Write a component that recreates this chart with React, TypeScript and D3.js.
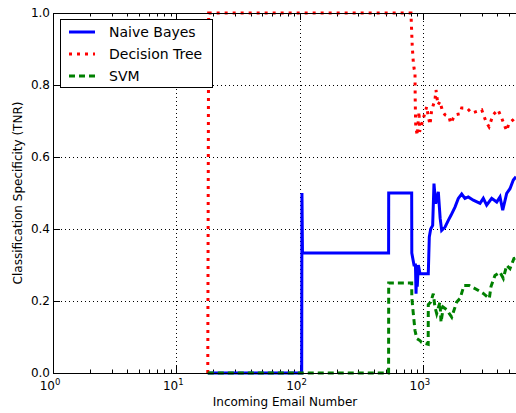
import { useEffect, useRef } from "react"
import * as d3 from "d3"

// Naive Bayes running specificity
const nbEmails = [18, 104, 104.5, 105.5, 527, 528, 811, 813, 847, 870, 880, 890, 900, 918, 947, 1106, 1127, 1157, 1200, 1230, 1270, 1334, 1380, 1420, 1511, 1607, 1690, 1821, 1937, 2063, 2193, 2334, 2564, 2906, 3090, 3290, 3614, 3970, 4220, 4440, 4782, 5085, 5410, 5690]
const nbTNR = [0, 0, 0.5, 0.333, 0.333, 0.5, 0.5, 0.333, 0.3, 0.3, 0.22, 0.29, 0.24, 0.3, 0.276, 0.276, 0.378, 0.4, 0.41, 0.526, 0.47, 0.503, 0.43, 0.396, 0.405, 0.424, 0.438, 0.461, 0.485, 0.497, 0.485, 0.489, 0.48, 0.471, 0.485, 0.466, 0.485, 0.475, 0.489, 0.452, 0.499, 0.512, 0.536, 0.545]

// Decision Tree
const dtEmails = [18, 18.3, 800, 811, 820, 835, 847, 863, 866, 870, 875, 900, 913, 930, 940, 1074, 1100, 1142, 1178, 1253, 1277, 1325, 1376, 1420, 1448, 1511, 1628, 1680, 1821, 2000, 2063, 2278, 2488, 3000, 3250, 3437, 3705, 4066, 4356, 4634, 4782, 4991, 5383, 5690]
const dtTNR = [0, 1, 1, 0.948, 0.907, 0.866, 0.847, 0.834, 0.764, 0.722, 0.684, 0.66, 0.69, 0.726, 0.67, 0.74, 0.717, 0.69, 0.73, 0.759, 0.786, 0.745, 0.754, 0.736, 0.726, 0.717, 0.712, 0.694, 0.717, 0.72, 0.736, 0.736, 0.722, 0.731, 0.698, 0.684, 0.717, 0.731, 0.708, 0.684, 0.673, 0.694, 0.703, 0.711]

// SVM
const svmEmails = [18, 527, 528, 811, 813, 831, 863, 891, 947, 977, 1104, 1106, 1157, 1214, 1253, 1294, 1376, 1403, 1464, 1559, 1713, 1880, 2000, 2155, 2378, 2731, 3090, 3456, 3567, 3843, 4220, 4490, 4782, 5085, 5480, 5690]
const svmTNR = [0, 0, 0.25, 0.25, 0.21, 0.174, 0.118, 0.096, 0.09, 0.085, 0.08, 0.19, 0.197, 0.22, 0.183, 0.165, 0.197, 0.141, 0.183, 0.176, 0.155, 0.197, 0.207, 0.243, 0.243, 0.232, 0.221, 0.207, 0.24, 0.271, 0.28, 0.263, 0.299, 0.29, 0.318, 0.32]

const yTicks = [0, 0.2, 0.4, 0.6, 0.8, 1.0]
const xTicks = [1, 10, 100, 1000]

const series = [
  { name: "Naive Bayes", emails: nbEmails, tnr: nbTNR, color: "#0000ff", dash: null },
  { name: "Decision Tree", emails: dtEmails, tnr: dtTNR, color: "#ff0000", dash: "3,5" },
  { name: "SVM", emails: svmEmails, tnr: svmTNR, color: "#008000", dash: "6,4" },
]

export default function App() {
  const ref = useRef<SVGSVGElement>(null)
  const width = 516
  const height = 413
  const margin = { left: 53, top: 13, right: 0, bottom: 40 }

  useEffect(() => {
    const svg = d3.select(ref.current)
    svg.selectAll("*").remove()
    const font = "DejaVu Sans, sans-serif"

    const x = d3.scaleLog().domain([1, 5690]).range([margin.left, width])
    const y = d3.scaleLinear().domain([0, 1]).range([height - margin.bottom, margin.top])
    const x0 = margin.left, x1 = width + 5, yb = y(0), yt = y(1)

    svg.append("defs").append("clipPath").attr("id", "plot")
      .append("rect").attr("x", x0).attr("y", yt - 2).attr("width", x1 - x0).attr("height", yb - yt + 4)

    // grid
    const grid = svg.append("g").attr("stroke", "#000").attr("stroke-width", 1).attr("stroke-dasharray", "1,3")
    grid.selectAll("line.gx").data(xTicks.slice(1)).enter().append("line")
      .attr("x1", d => Math.round(x(d)) + 0.5).attr("x2", d => Math.round(x(d)) + 0.5)
      .attr("y1", yt).attr("y2", yb)
    grid.selectAll("line.gy").data(yTicks.slice(1, -1)).enter().append("line")
      .attr("x1", x0).attr("x2", x1)
      .attr("y1", d => Math.round(y(d)) + 0.5).attr("y2", d => Math.round(y(d)) + 0.5)

    // ticks
    const minor: number[] = []
    for (let e = 0; e < 4; e++) for (let k = 2; k <= 9; k++) if (k * 10 ** e < 5690) minor.push(k * 10 ** e)
    const tk = svg.append("g").attr("stroke", "#000").attr("stroke-width", 1)
    xTicks.forEach(d => {
      const px = Math.round(x(d)) + 0.5
      tk.append("line").attr("x1", px).attr("x2", px).attr("y1", yb).attr("y2", yb - 7)
      tk.append("line").attr("x1", px).attr("x2", px).attr("y1", yt).attr("y2", yt + 7)
    })
    minor.forEach(d => {
      const px = Math.round(x(d)) + 0.5
      tk.append("line").attr("x1", px).attr("x2", px).attr("y1", yb).attr("y2", yb - 3.5)
      tk.append("line").attr("x1", px).attr("x2", px).attr("y1", yt).attr("y2", yt + 3.5)
    })
    yTicks.forEach(d => {
      const py = Math.round(y(d)) + 0.5
      tk.append("line").attr("x1", x0).attr("x2", x0 + 7).attr("y1", py).attr("y2", py)
    })

    // lines
    const line = d3.line<[number, number]>().x(d => x(d[0])).y(d => y(d[1]))
    const plot = svg.append("g").attr("clip-path", "url(#plot)")
    series.forEach(s => {
      const pts = s.emails.map((e, i) => [e, s.tnr[i]] as [number, number])
      plot.append("path").datum(pts).attr("d", line)
        .attr("fill", "none").attr("stroke", s.color).attr("stroke-width", 3)
        .attr("stroke-dasharray", s.dash)
    })

    // frame
    svg.append("path")
      .attr("d", `M${x1},${yt + 0.5}H${x0 + 0.5}V${yb + 0.5}H${x1}`)
      .attr("fill", "none").attr("stroke", "#000").attr("stroke-width", 1)

    // tick labels
    yTicks.forEach(d => {
      svg.append("text").attr("x", x0 - 3).attr("y", y(d)).attr("dy", "0.36em")
        .attr("text-anchor", "end").attr("font-family", font).attr("font-size", 12)
        .text(d.toFixed(1))
    })
    xTicks.forEach((d, i) => {
      const t = svg.append("text").attr("x", x(d) - 3).attr("y", yb + 17)
        .attr("text-anchor", "middle").attr("font-family", font).attr("font-size", 12)
      t.append("tspan").text("10")
      t.append("tspan").attr("dy", -5).attr("font-size", 8.5).text(String(i))
    })

    // axis labels
    svg.append("text").attr("x", 285).attr("y", 406)
      .attr("text-anchor", "middle").attr("font-family", font).attr("font-size", 12)
      .text("Incoming Email Number")
    svg.append("text").attr("transform", `translate(22,${(yt + yb) / 2}) rotate(-90)`)
      .attr("text-anchor", "middle").attr("font-family", font).attr("font-size", 12)
      .text("Classification Specificity (TNR)")

    // legend
    const lg = svg.append("g")
    lg.append("rect").attr("x", 60.5).attr("y", 19.5).attr("width", 152).attr("height", 68)
      .attr("fill", "#fff").attr("stroke", "#000").attr("stroke-width", 1)
    series.forEach((s, i) => {
      const ly = 32 + i * 22
      lg.append("line").attr("x1", 69).attr("x2", 95).attr("y1", ly).attr("y2", ly)
        .attr("stroke", s.color).attr("stroke-width", 3).attr("stroke-dasharray", s.dash)
      lg.append("text").attr("x", 109).attr("y", ly).attr("dy", "0.36em")
        .attr("font-family", font).attr("font-size", 14).text(s.name)
    })
  }, [])

  return (
    <div style={{ position: "absolute", left: 0, top: 0 }}>
      <svg ref={ref} width={width} height={height} style={{ display: "block", background: "#fff" }}></svg>
    </div>
  )
}
